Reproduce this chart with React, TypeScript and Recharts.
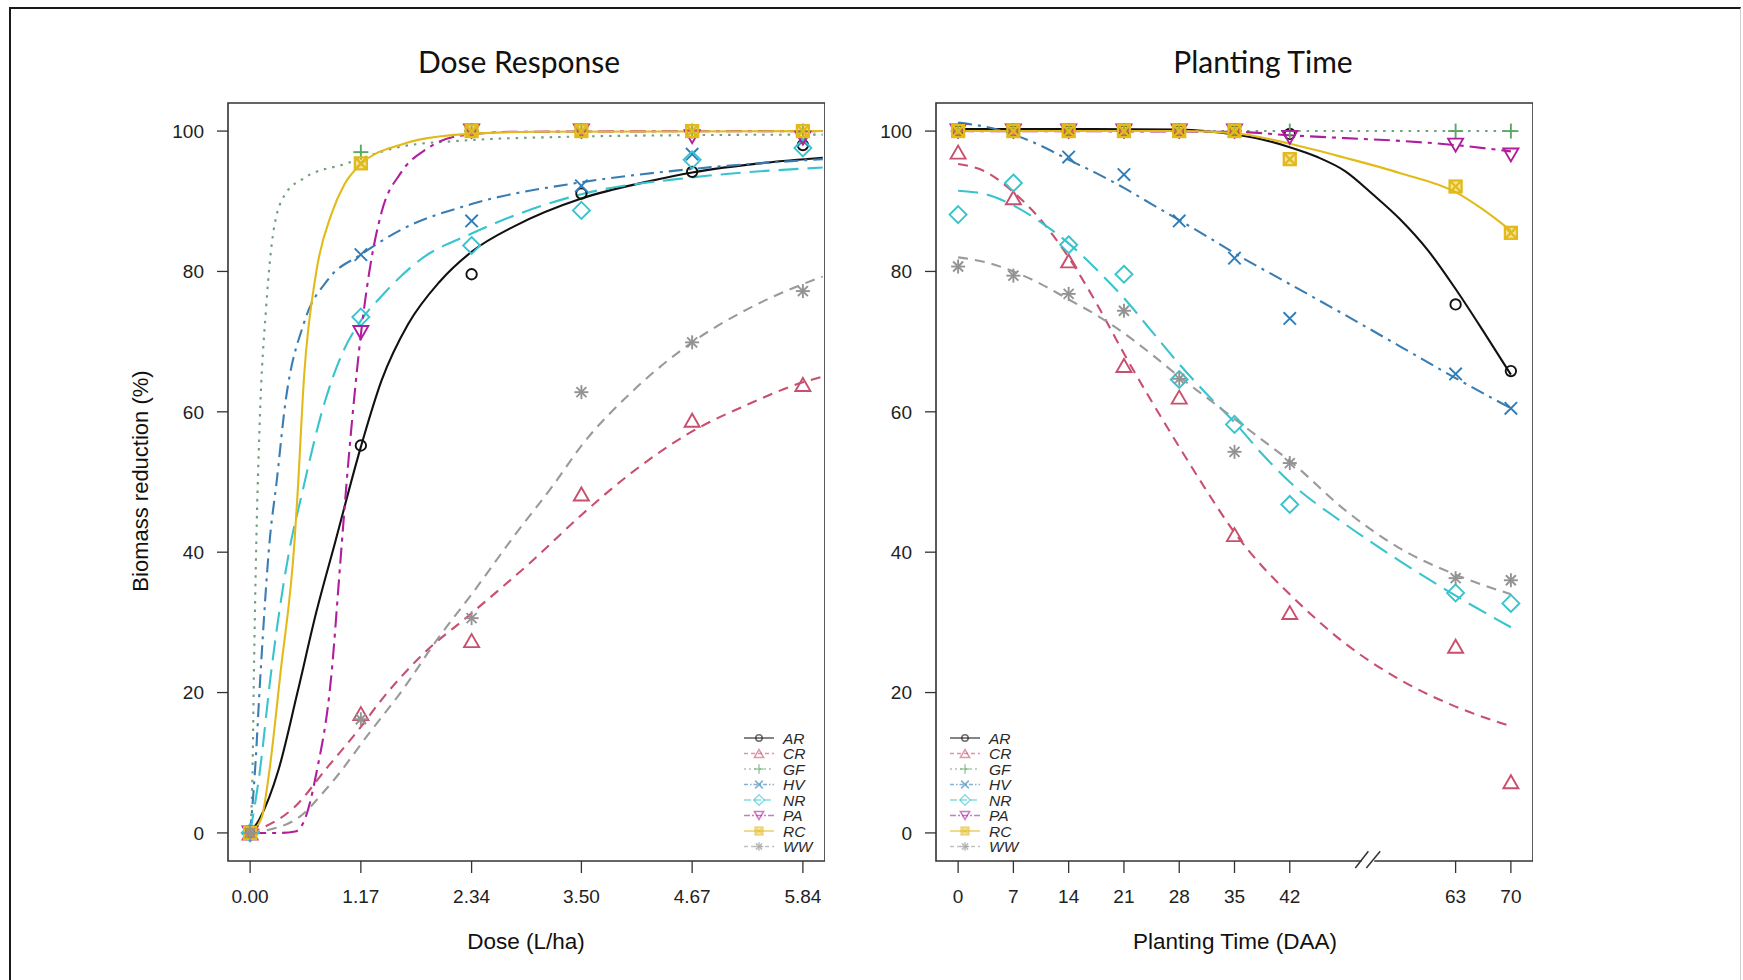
import React from 'react';
import { ComposedChart, Line, Scatter, XAxis, YAxis, ReferenceArea, ReferenceLine } from 'recharts';

type Pt = [number, number];

// ---------- species ----------
const species = ['AR', 'CR', 'GF', 'HV', 'NR', 'PA', 'RC', 'WW'];
const speciesColors = ['#111111', '#C8506E', '#5AA865', '#2E7CB8', '#38C4CE', '#B01E9E', '#E2BA1A', '#939393'];
const lineColors = ['#111111', '#C8506E', '#6F9F7C', '#3A7DB2', '#38C4CE', '#B01E9E', '#E2BA1A', '#9A9A9A'];
const speciesMarkers = ['circle', 'triangle', 'plus', 'cross', 'diamond', 'invtriangle', 'squarex', 'asterisk'];
const speciesDash = ['', '10 7', '2.5 6', '14 6 3 6', '20 9', '16 6 4 6', '', '10 7'];
const legendDash = ['', '4 3', '2 3', '4 2 1.5 2', '7 3', '6 2 2 2', '', '4 3'];

// ---------- Dose response ----------
const doseLevels = [0, 1.17, 2.34, 3.5, 4.67, 5.84];
const doseTickLabels = ['0.00', '1.17', '2.34', '3.50', '4.67', '5.84'];
const doseAR = [0, 55.2, 79.6, 91.1, 94.2, 98.0];
const doseCR = [0, 17.0, 27.4, 48.3, 58.8, 63.9];
const doseGF = [0, 97.0, 100, 100, 100, 100];
const doseHV = [0, 82.4, 87.2, 92.2, 96.7, 98.6];
const doseNR = [0, 73.5, 83.7, 88.7, 95.9, 97.6];
const dosePA = [0, 71.3, 100, 100, 99.2, 99.0];
const doseRC = [0, 95.4, 100, 100, 100, 100];
const doseWW = [0, 16.2, 30.6, 62.8, 69.9, 77.2];

const doseFitAR: Pt[] = [[0, 0], [0.1, 2], [0.3, 9], [0.5, 20], [0.7, 31.5], [0.9, 41.5], [1.17, 55], [1.39, 64.5], [1.67, 72.5], [2.0, 78.5], [2.34, 82.8], [2.8, 86.5], [3.5, 90.4], [4.2, 92.8], [4.67, 94.1], [5.45, 95.5], [6.05, 96.2]];
const doseFitCR: Pt[] = [[0, 0], [0.47, 3.7], [0.82, 9.4], [1.17, 15.1], [1.39, 19], [1.79, 25], [2.34, 31.3], [3.0, 39], [3.5, 45.3], [4.0, 51], [4.67, 57.2], [5.25, 61], [5.84, 64.2], [6.05, 65]];
const doseFitGF: Pt[] = [[0, 0], [0.025, 8.5], [0.04, 22.7], [0.066, 41.7], [0.1, 58], [0.17, 75], [0.25, 86], [0.37, 91], [0.57, 93.3], [1.0, 95.3], [1.6, 97.8], [2.2, 98.6], [3.4, 99.2], [4.5, 99.4], [6.05, 99.5]];
const doseFitHV: Pt[] = [[0, 0], [0.05, 8.5], [0.11, 22.7], [0.207, 41.7], [0.28, 50], [0.37, 61], [0.57, 72.7], [0.82, 78.8], [1.17, 82.4], [1.59, 85.9], [2.34, 89.6], [3.5, 92.7], [4.67, 94.6], [6.05, 96]];
const doseFitNR: Pt[] = [[0, 0], [0.1, 8.5], [0.22, 22.7], [0.435, 41.7], [0.53, 47.3], [0.78, 61], [0.98, 68.5], [1.17, 73], [1.39, 76.5], [1.79, 81.6], [2.34, 85.4], [3.5, 91], [4.67, 93.4], [6.05, 94.8]];
const doseFitPA: Pt[] = [[0, 0], [0.3, 0], [0.475, 0.2], [0.58, 2], [0.7, 8.5], [0.86, 22.7], [0.95, 38], [1.02, 50], [1.1, 62], [1.17, 71], [1.26, 80], [1.39, 88.5], [1.59, 94], [1.87, 97.5], [2.2, 99.3], [2.8, 99.9], [6.05, 100]];
const doseFitRC: Pt[] = [[0, 0], [0.12, 2.1], [0.2, 8.5], [0.32, 22.7], [0.47, 41.7], [0.5, 48], [0.57, 65], [0.7, 80], [0.86, 88.2], [1.0, 92.5], [1.17, 95.3], [1.6, 98.1], [2.2, 99.5], [3.0, 99.9], [6.05, 100]];
const doseFitWW: Pt[] = [[0, 0], [0.47, 1.8], [0.82, 6.5], [1.28, 14.6], [1.59, 20], [2.0, 28], [2.34, 34], [2.8, 42.5], [3.2, 49.5], [3.52, 55.5], [4.03, 62.8], [4.67, 69.9], [5.25, 74.6], [6.05, 79.3]];

// ---------- Planting time ----------
const plantDays = [0, 7, 14, 21, 28, 35, 42, 63, 70];
const plantTickLabels = ['0', '7', '14', '21', '28', '35', '42', '63', '70'];
const plantAR = [100, 100, 100, 100, 100, 100, 99.6, 75.3, 65.8];
const plantCR = [97.0, 90.5, 81.5, 66.6, 62.1, 42.5, 31.4, 26.6, 7.3];
const plantGF = [100, 100, 100, 100, 100, 100, 100, 100, 100];
const plantHV = [100, 100, 96.3, 93.8, 87.2, 81.9, 73.3, 65.4, 60.5];
const plantNR = [88.1, 92.6, 83.8, 79.6, 64.6, 58.2, 46.8, 34.2, 32.7];
const plantPA = [100, 100, 100, 100, 100, 100, 99.1, 98.0, 96.6];
const plantRC = [100, 100, 100, 100, 100, 100, 96.0, 92.1, 85.5];
const plantWW = [80.7, 79.4, 76.8, 74.4, 64.7, 54.3, 52.7, 36.3, 36.0];

const plantFitAR: Pt[] = [[0, 100.3], [14, 100.3], [28, 100.2], [35, 99.5], [38.5, 98.8], [42, 97.7], [45.5, 96.3], [49, 94.3], [52.5, 91], [56, 87.4], [59.5, 83], [63, 77.5], [66.5, 71.5], [70, 65.3]];
const plantFitCR: Pt[] = [[0, 95.3], [3.5, 94.2], [7, 91.3], [10.5, 87.3], [14, 82], [17.5, 75.5], [21, 68.3], [24.5, 61.5], [28, 55], [31.5, 48.7], [35, 42.8], [38.5, 38], [42, 34], [49, 27], [56, 21.8], [63, 18], [70, 15.2]];
const plantFitGF: Pt[] = [[0, 100], [35, 100], [70, 100]];
const plantFitHV: Pt[] = [[0, 101.2], [3.5, 100.6], [7, 99.5], [10.5, 97.9], [14, 95.9], [17.5, 94], [21, 91.9], [24.5, 89.6], [28, 87.3], [31.5, 85], [35, 82.6], [42, 78.2], [49, 73.8], [56, 69.3], [63, 64.8], [70, 60.5]];
const plantFitNR: Pt[] = [[0, 91.5], [3.5, 91], [7, 89.4], [10.5, 87], [14, 84], [17.5, 80.3], [21, 76.2], [24.5, 71.5], [28, 66.8], [31.5, 62.5], [35, 58.5], [38.5, 54], [42, 50], [49, 44], [56, 38.7], [63, 33.8], [70, 29.3]];
const plantFitPA: Pt[] = [[0, 100], [35, 99.9], [42, 99.4], [49, 99], [56, 98.6], [63, 98], [70, 97.1]];
const plantFitRC: Pt[] = [[0, 100], [28, 100], [35, 99.7], [42, 98.2], [49, 96.2], [56, 94], [63, 91.3], [66.5, 88.8], [70, 85.8]];
const plantFitWW: Pt[] = [[0, 82], [3.5, 81.3], [7, 80], [10.5, 78.2], [14, 76], [17.5, 73.8], [21, 71.2], [24.5, 68.2], [28, 65], [31.5, 62], [35, 59], [38.5, 56], [42, 53], [49, 46], [56, 40.5], [63, 36.8], [70, 34]];

const yTicks = [0, 20, 40, 60, 80, 100];

const doseObs = [doseAR, doseCR, doseGF, doseHV, doseNR, dosePA, doseRC, doseWW];
const doseFits = [doseFitAR, doseFitCR, doseFitGF, doseFitHV, doseFitNR, doseFitPA, doseFitRC, doseFitWW];
const plantObs = [plantAR, plantCR, plantGF, plantHV, plantNR, plantPA, plantRC, plantWW];
const plantFits = [plantFitAR, plantFitCR, plantFitGF, plantFitHV, plantFitNR, plantFitPA, plantFitRC, plantFitWW];

const FONT = '"Liberation Sans", Arial, sans-serif';

function Marker({ kind, cx, cy, color, s = 1, opacity = 1 }: any) {
  if (cx == null || cy == null) return null;
  const sw = 1.9 * (s < 1 ? 0.8 : 1);
  const common = { stroke: color, strokeWidth: sw, fill: 'none', opacity };
  switch (kind) {
    case 'circle':
      return <circle cx={cx} cy={cy} r={5.2 * s} {...common} />;
    case 'triangle': {
      const w = 7.5 * s, h = 6.5 * s;
      return <polygon points={`${cx - w},${cy + h} ${cx + w},${cy + h} ${cx},${cy - h}`} {...common} />;
    }
    case 'invtriangle': {
      const w = 7.5 * s, h = 6.5 * s;
      return <polygon points={`${cx - w},${cy - h} ${cx + w},${cy - h} ${cx},${cy + h}`} {...common} />;
    }
    case 'plus': {
      const a = 7.5 * s;
      return <g {...common}><line x1={cx - a} x2={cx + a} y1={cy} y2={cy} /><line x1={cx} x2={cx} y1={cy - a} y2={cy + a} /></g>;
    }
    case 'cross': {
      const a = 6.2 * s;
      return <g {...common}><line x1={cx - a} x2={cx + a} y1={cy - a} y2={cy + a} /><line x1={cx - a} x2={cx + a} y1={cy + a} y2={cy - a} /></g>;
    }
    case 'diamond': {
      const a = 8.5 * s;
      return <polygon points={`${cx},${cy - a} ${cx + a},${cy} ${cx},${cy + a} ${cx - a},${cy}`} {...common} />;
    }
    case 'squarex': {
      const a = 6 * s;
      return (
        <g {...common} strokeWidth={sw * 1.2}>
          <rect x={cx - a} y={cy - a} width={2 * a} height={2 * a} fill={color} fillOpacity={0.4} />
          <line x1={cx - a} x2={cx + a} y1={cy - a} y2={cy + a} />
          <line x1={cx - a} x2={cx + a} y1={cy + a} y2={cy - a} />
        </g>
      );
    }
    case 'asterisk': {
      const a = 7 * s, b = 5 * s;
      return (
        <g {...common}>
          <line x1={cx - a} x2={cx + a} y1={cy} y2={cy} />
          <line x1={cx} x2={cx} y1={cy - a} y2={cy + a} />
          <line x1={cx - b} x2={cx + b} y1={cy - b} y2={cy + b} />
          <line x1={cx - b} x2={cx + b} y1={cy + b} y2={cy - b} />
        </g>
      );
    }
    default:
      return null;
  }
}

function LegendBox({ left, top }: { left: number; top: number }) {
  return (
    <svg style={{ position: 'absolute', left, top }} width={100} height={135}>
      {species.map((name, i) => {
        const y = 8 + i * 15.5;
        return (
          <g key={name}>
            <line x1={0} x2={30} y1={y} y2={y} stroke={lineColors[i]} strokeWidth={1.7}
              strokeDasharray={legendDash[i] || undefined} opacity={0.6} />
            <Marker kind={speciesMarkers[i]} cx={15} cy={y} color={speciesColors[i]} s={0.62} opacity={0.6} />
            <text x={39} y={y} dy="0.36em" fontStyle="italic" fontSize={15.5} fontFamily={FONT} fill="#2a2a2a">{name}</text>
          </g>
        );
      })}
    </svg>
  );
}

const tickStyle = { fontSize: 19, fontFamily: FONT, fill: '#222' };

function Panel({ xs, obs, fits, xDomain, ticks, tickLabels, yAxisWidth, width, left, breakMark }: any) {
  const h = 980;
  return (
    <div style={{ position: 'absolute', left, top: 0 }}>
      <ComposedChart width={width} height={h} margin={{ top: 103, right: 0, bottom: 0, left: 0 }}>
        <XAxis type="number" dataKey="x" domain={xDomain} allowDataOverflow ticks={ticks} interval={0}
          tickFormatter={(v: number) => tickLabels[ticks.indexOf(v)] ?? String(v)}
          axisLine={false} tickLine={{ stroke: '#333', strokeWidth: 1.3 }} tickSize={12} tickMargin={17}
          tick={tickStyle} height={119} />
        <YAxis type="number" dataKey="y" domain={[-4, 104]} allowDataOverflow ticks={yTicks} interval={0}
          axisLine={false} tickLine={{ stroke: '#333', strokeWidth: 1.3 }} tickSize={11} tickMargin={13}
          tick={tickStyle} width={yAxisWidth} />
        <ReferenceArea x1={xDomain[0]} x2={xDomain[1]} y1={-4} y2={104} fill="none" fillOpacity={0}
          stroke="#333" strokeWidth={1.6} ifOverflow="visible" />
        {obs.map((vals: number[], i: number) => (
          <Scatter key={'s' + species[i]} name={species[i]} data={xs.map((x: number, j: number) => ({ x, y: vals[j] }))}
            dataKey="y" isAnimationActive={false}
            shape={(p: any) => <Marker kind={speciesMarkers[i]} cx={p.cx} cy={p.cy} color={speciesColors[i]} />} />
        ))}
        {fits.map((pts: Pt[], i: number) => (
          <Line key={'l' + species[i]} data={pts.map(([x, y]) => ({ x, y }))} dataKey="y" type="monotone"
            stroke={lineColors[i]} strokeWidth={2.1} strokeDasharray={speciesDash[i] || undefined}
            dot={false} activeDot={false} isAnimationActive={false} />
        ))}
        {breakMark && (
          <ReferenceArea x1={breakMark.gap[0]} x2={breakMark.gap[1]} y1={-4.6} y2={-3.4}
            fill="#ffffff" fillOpacity={1} stroke="none" ifOverflow="visible" />
        )}
        {breakMark && breakMark.slashes.map((seg: any, k: number) => (
          <ReferenceLine key={'b' + k} segment={seg} stroke="#333" strokeWidth={1.5} ifOverflow="visible" />
        ))}
      </ComposedChart>
    </div>
  );
}

const breakDef = {
  gap: [51.1, 52.7],
  slashes: [
    [{ x: 50.3, y: -5.0 }, { x: 51.95, y: -2.6 }],
    [{ x: 51.7, y: -5.0 }, { x: 53.45, y: -2.6 }],
  ],
};

const textBase: React.CSSProperties = {
  position: 'absolute', whiteSpace: 'nowrap', lineHeight: 1, transform: 'translate(-50%, -50%)', color: '#111',
};

export default function App() {
  return (
    <div style={{ position: 'absolute', left: 0, top: 0, width: 1743, height: 980, background: '#fff', overflow: 'hidden' }}>
      <div style={{ position: 'absolute', left: 9, top: 7, width: 1729, height: 990, borderLeft: '2px solid #1a1a1a', borderTop: '2px solid #1a1a1a', borderRight: '1px solid #d0d0d0' }} />
      <Panel xs={doseLevels} obs={doseObs} fits={doseFits} xDomain={[-0.2336, 6.0736]} ticks={doseLevels}
        tickLabels={doseTickLabels} yAxisWidth={128} width={725} left={100} />
      <Panel xs={plantDays} obs={plantObs} fits={plantFits} xDomain={[-2.8, 72.8]} ticks={plantDays}
        tickLabels={plantTickLabels} yAxisWidth={96} width={693} left={840} breakMark={breakDef} />
      <LegendBox left={744} top={730} />
      <LegendBox left={950} top={730} />
      <div style={{ ...textBase, left: 519, top: 61, fontFamily: 'Lato, "Open Sans", sans-serif', fontSize: 30 }}>Dose Response</div>
      <div style={{ ...textBase, left: 1263, top: 61, fontFamily: 'Lato, "Open Sans", sans-serif', fontSize: 30 }}>Planting Time</div>
      <div style={{ ...textBase, left: 526, top: 942, fontFamily: FONT, fontSize: 22.5 }}>Dose (L/ha)</div>
      <div style={{ ...textBase, left: 1235, top: 942, fontFamily: FONT, fontSize: 22.5 }}>Planting Time (DAA)</div>
      <div style={{ ...textBase, left: 141, top: 481, fontFamily: FONT, fontSize: 22, transform: 'translate(-50%, -50%) rotate(-90deg)' }}>Biomass reduction (%)</div>
    </div>
  );
}
